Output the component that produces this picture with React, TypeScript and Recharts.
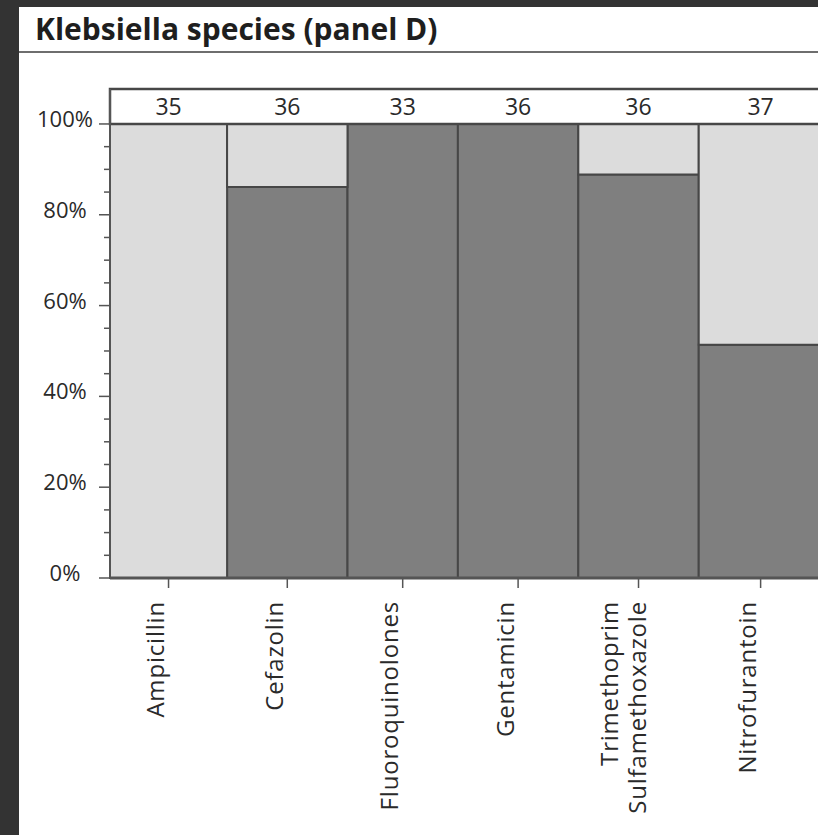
import { ComposedChart, Line, ReferenceArea, XAxis, YAxis } from "recharts";

// isolates per drug, and how many of them were susceptible
const drugs = [
  "Ampicillin",
  "Cefazolin",
  "Fluoroquinolones",
  "Gentamicin",
  "Trimethoprim\nSulfamethoxazole",
  "Nitrofurantoin",
];
const isolates = [35, 36, 33, 36, 36, 37];
const susceptible = [0, 31, 33, 36, 32, 19];
const percentTicks = [0, 5, 10, 15, 20, 25, 30, 35, 40, 45, 50, 55, 60, 65, 70, 75, 80, 85, 90, 95, 100];

const FRAME = "#333333";
const EDGE = "#474747";
const AXIS = "#555555";
const TEXT = "#2a2a2a";
const LIGHT = "#dcdcdc";
const DARK = "#7f7f7f";
const FONT = "'Open Sans', sans-serif";

// header band above 100% holding the counts, in percent units
const HEADER_TOP = 107.7;

const total = isolates.reduce((sum, n) => sum + n, 0);
const rows = drugs.map((drug, i) => {
  const start = isolates.slice(0, i).reduce((sum, n) => sum + n, 0);
  const n = isolates[i];
  return {
    drug,
    n,
    start,
    end: start + n,
    mid: start + n / 2,
    pct: (susceptible[i] / n) * 100,
  };
});

function PercentTick(props: any) {
  const { x, y, payload } = props;
  const value = Number(payload?.value ?? 0);
  const major = value % 20 === 0;
  return (
    <g>
      <line
        x1={x - (major ? 11 : 6)}
        x2={x}
        y1={y}
        y2={y}
        stroke={AXIS}
        strokeWidth={1.5}
      />
      {major && (
        <text
          x={x - 45}
          y={y + 3}
          textAnchor="middle"
          fill={TEXT}
          fontSize={22}
          fontFamily={FONT}
        >
          {value}%
        </text>
      )}
    </g>
  );
}

function DrugTick(props: any) {
  const { x, y, index } = props;
  const lines = String(rows[index]?.drug ?? "").split("\n");
  const top = y + 11;
  return (
    <g>
      {lines.map((line, li) => {
        const shift = lines.length === 1 ? -4.5 : li === 0 ? -20.5 : 7.5;
        return (
          <text
            key={li}
            x={x + shift}
            y={top}
            transform={`rotate(-90, ${x + shift}, ${top})`}
            textAnchor="end"
            fill={TEXT}
            fontSize={24}
            letterSpacing={0.8}
            fontFamily={FONT}
          >
            {line}
          </text>
        );
      })}
    </g>
  );
}

export default function App() {
  return (
    <div
      style={{
        position: "fixed",
        left: 0,
        top: 0,
        width: 818,
        height: 835,
        background: FRAME,
        overflow: "hidden",
      }}
    >
      <div
        style={{
          position: "absolute",
          left: 19,
          top: 7,
          right: 0,
          bottom: 0,
          background: "#ffffff",
        }}
      />
      <div
        style={{
          position: "absolute",
          left: 35,
          top: 8,
          fontFamily: FONT,
          fontWeight: 700,
          fontSize: 30,
          color: "#1e1e1e",
          whiteSpace: "nowrap",
        }}
      >
        Klebsiella species (panel D)
      </div>
      <div
        style={{
          position: "absolute",
          left: 19,
          right: 0,
          top: 51,
          height: 2,
          background: "#6e6e6e",
        }}
      />
      <div style={{ position: "absolute", left: 0, top: 0 }}>
        <ComposedChart
          width={830}
          height={835}
          data={rows}
          margin={{ top: 89, right: 7.5, bottom: 0, left: 0 }}
        >
          <XAxis
            dataKey="mid"
            type="number"
            domain={[0, total]}
            ticks={rows.map((r) => r.mid)}
            interval={0}
            height={257}
            tickSize={10}
            tickLine={{ stroke: AXIS, strokeWidth: 1.5 }}
            axisLine={{ stroke: AXIS, strokeWidth: 3 }}
            tick={(p: any) => <DrugTick {...p} />}
          />
          <YAxis
            type="number"
            dataKey="pct"
            domain={[0, HEADER_TOP]}
            ticks={percentTicks}
            interval={0}
            width={110}
            tickSize={0}
            tickMargin={0}
            tickLine={false}
            axisLine={{ stroke: AXIS, strokeWidth: 2 }}
            tick={(p: any) => <PercentTick {...p} />}
          />
          {/* carries the susceptible share so both axes get a scale; drawn as mosaic cells below */}
          <Line
            dataKey="pct"
            stroke="none"
            dot={false}
            activeDot={false}
            legendType="none"
            isAnimationActive={false}
          />
          {rows.map((r) =>
            r.pct > 0 ? (
              <ReferenceArea
                key={`s-${r.drug}`}
                x1={r.start}
                x2={r.end}
                y1={0}
                y2={r.pct}
                fill={DARK}
                fillOpacity={1}
                stroke={EDGE}
                strokeWidth={2}
                ifOverflow="visible"
              />
            ) : null
          )}
          {rows.map((r) =>
            r.pct < 100 ? (
              <ReferenceArea
                key={`r-${r.drug}`}
                x1={r.start}
                x2={r.end}
                y1={r.pct}
                y2={100}
                fill={LIGHT}
                fillOpacity={1}
                stroke={EDGE}
                strokeWidth={2}
                ifOverflow="visible"
              />
            ) : null
          )}
          <ReferenceArea
            x1={0}
            x2={total}
            y1={100}
            y2={HEADER_TOP}
            fill="#ffffff"
            fillOpacity={1}
            stroke={EDGE}
            strokeWidth={2.5}
            ifOverflow="visible"
          />
          {rows.map((r) => (
            <ReferenceArea
              key={`n-${r.drug}`}
              x1={r.start}
              x2={r.end}
              y1={100}
              y2={HEADER_TOP}
              fill="none"
              stroke="none"
              ifOverflow="visible"
              label={(lp: any) => {
                const vb = lp?.viewBox ?? {};
                return (
                  <text
                    x={vb.x + vb.width / 2}
                    y={vb.y + vb.height - 9}
                    textAnchor="middle"
                    fill={TEXT}
                    fontSize={23}
                    fontFamily={FONT}
                  >
                    {r.n}
                  </text>
                );
              }}
            />
          ))}
        </ComposedChart>
      </div>
    </div>
  );
}
